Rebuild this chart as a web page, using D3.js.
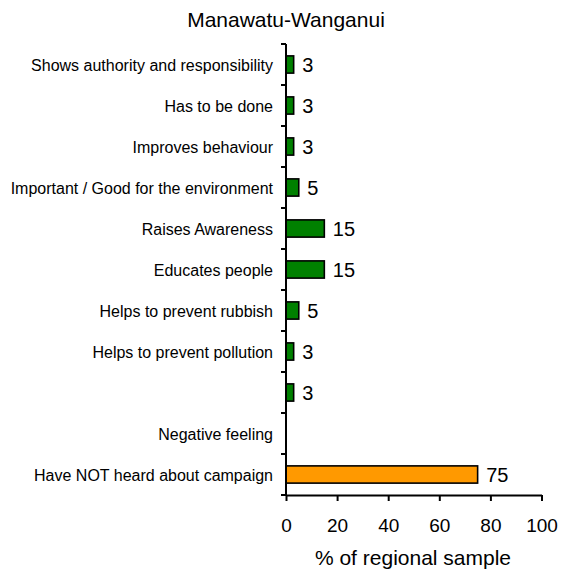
<!DOCTYPE html>
<html>
<head>
<meta charset="utf-8">
<script src="https://cdn.jsdelivr.net/npm/d3@7"></script>
<style>
  html, body { margin: 0; padding: 0; background: #fff; }
  svg { display: block; font-family: "Liberation Sans", Arial, sans-serif; }
</style>
</head>
<body>
<svg id="chart" width="561" height="577"></svg>
<script>
// Reasons for the campaign, plus the "not heard" group
const categories = [
  "Shows authority and responsibility",
  "Has to be done",
  "Improves behaviour ",
  "Important / Good for the environment",
  "Raises Awareness",
  "Educates people",
  "Helps to prevent rubbish",
  "Helps to prevent pollution",
  "",
  "Negative feeling",
  "Have NOT heard about campaign"
];
const values = [3, 3, 3, 5, 15, 15, 5, 3, 3, null, 75];
const groups = ["heard", "heard", "heard", "heard", "heard", "heard", "heard", "heard", "heard", "heard", "notHeard"];
const xTicks = [0, 20, 40, 60, 80, 100];
const title = "Manawatu-Wanganui";
const xTitle = "% of regional sample";

const colors = { heard: "#008000", notHeard: "#FF9900" };

const svg = d3.select("#chart");
const plotLeft = 286, plotRight = 541.5, plotTop = 44, plotBottom = 495;

const x = d3.scaleLinear().domain([0, 100]).range([plotLeft, plotRight]);
const y = d3.scaleBand().domain(d3.range(categories.length)).range([plotTop, plotBottom]).padding(0);
const barH = y.bandwidth() * 0.42;

// title
svg.append("text")
  .attr("x", 286).attr("y", 27)
  .attr("text-anchor", "middle")
  .attr("font-size", 21)
  .text(title);

// bars
const rows = categories.map((c, i) => ({ i, c, v: values[i], g: groups[i] }));
svg.append("g").selectAll("rect")
  .data(rows.filter(d => d.v != null))
  .join("rect")
  .attr("x", x(0))
  .attr("y", d => y(d.i) + (y.bandwidth() - barH) / 2)
  .attr("width", d => x(d.v) - x(0))
  .attr("height", barH)
  .attr("fill", d => colors[d.g])
  .attr("stroke", "#000")
  .attr("stroke-width", 1.6);

// value labels
svg.append("g").selectAll("text")
  .data(rows.filter(d => d.v != null))
  .join("text")
  .attr("x", d => x(d.v) + 8.5)
  .attr("y", d => y(d.i) + y.bandwidth() / 2)
  .attr("dy", "0.36em")
  .attr("font-size", 20)
  .text(d => d.v);

// category labels
svg.append("g").selectAll("text")
  .data(rows)
  .join("text")
  .attr("x", 273)
  .attr("y", d => y(d.i) + y.bandwidth() / 2)
  .attr("dy", "0.4em")
  .attr("text-anchor", "end")
  .attr("font-size", 16)
  .text(d => d.c);

// y axis line with ticks at category boundaries
const yAxisG = svg.append("g").attr("stroke", "#000").attr("stroke-width", 2);
yAxisG.append("line").attr("x1", plotLeft).attr("x2", plotLeft).attr("y1", plotTop).attr("y2", plotBottom + 1);
const bounds = d3.range(categories.length + 1).map(k => plotTop + k * y.step());
yAxisG.selectAll("line.tick")
  .data(bounds)
  .join("line")
  .attr("class", "tick")
  .attr("x1", plotLeft - 5).attr("x2", plotLeft)
  .attr("y1", d => d).attr("y2", d => d);

// x axis
const xAxis = d3.axisBottom(x).tickValues(xTicks).tickSize(6).tickPadding(18).tickSizeOuter(0);
const xg = svg.append("g").attr("transform", `translate(0,${plotBottom})`).call(xAxis);
xg.select(".domain").attr("stroke", "#000").attr("stroke-width", 2);
xg.selectAll(".tick line").attr("stroke", "#000").attr("stroke-width", 2);
xg.selectAll(".tick text")
  .attr("font-size", 19)
  .attr("font-family", "Liberation Sans, Arial, sans-serif")
  .attr("fill", "#000");

svg.append("text")
  .attr("x", 413).attr("y", 565)
  .attr("text-anchor", "middle")
  .attr("font-size", 21)
  .text(xTitle);
</script>
</body>
</html>
